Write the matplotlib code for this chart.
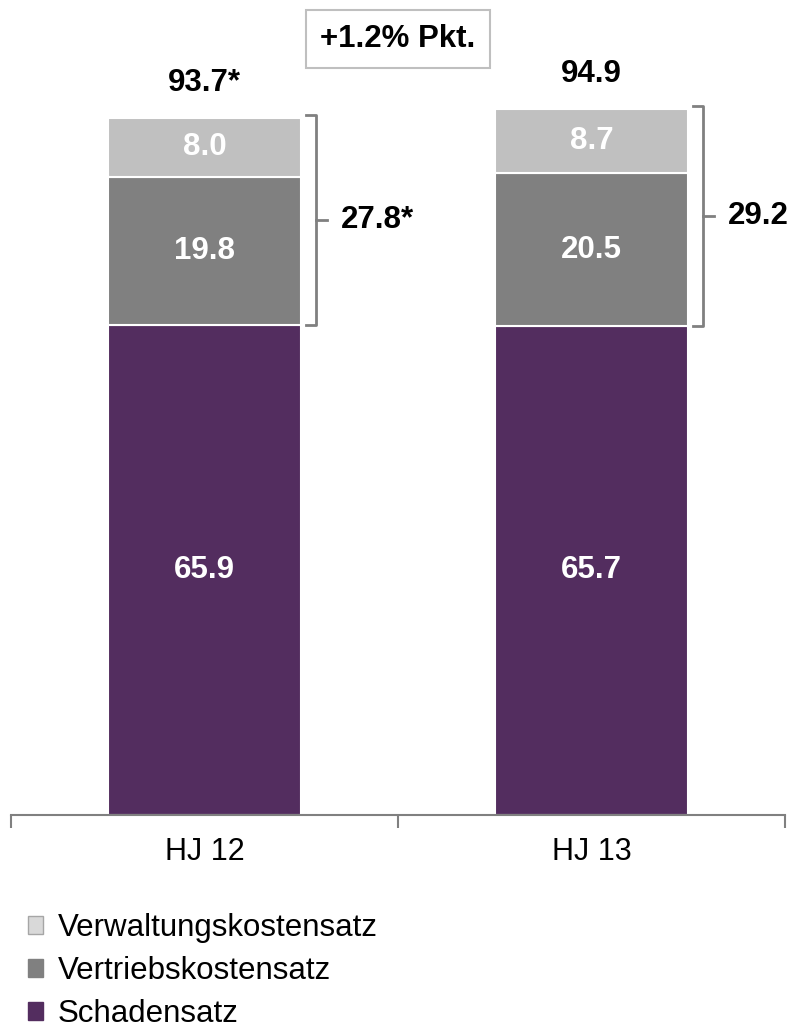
import matplotlib.pyplot as plt
from matplotlib.patches import Patch

plt.rcParams['font.family'] = ['Liberation Sans', 'DejaVu Sans']

periods = ['HJ 12', 'HJ 13']
schaden = [65.9, 65.7]
vertrieb = [19.8, 20.5]
verwaltung = [8.0, 8.7]
totals = ['93.7*', '94.9']
kosten = ['27.8*', '29.2']
delta_label = '+1.2% Pkt.'
series_names = ['Schadensatz', 'Vertriebskostensatz', 'Verwaltungskostensatz']

c_schaden = '#532D5F'
c_vertrieb = '#808080'
c_verwaltung = '#C0C0C0'
fs = 22.5

fig = plt.figure(figsize=(7.98, 10.33), dpi=100)
ax = fig.add_axes([11 / 798, 218 / 1033, 774 / 798, 815 / 1033])

x = [0.5, 1.5]
w = 0.5
ax.bar(x, schaden, w, color=c_schaden, edgecolor='white', linewidth=1.5)
ax.bar(x, vertrieb, w, bottom=schaden, color=c_vertrieb, edgecolor='white', linewidth=1.5)
bottom3 = [a + b for a, b in zip(schaden, vertrieb)]
ax.bar(x, verwaltung, w, bottom=bottom3, color=c_verwaltung, edgecolor='white', linewidth=1.5)

for i in range(2):
    ax.text(x[i], schaden[i] / 2, f'{schaden[i]:.1f}', ha='center', va='center',
            color='white', fontsize=fs, fontweight='bold')
    ax.text(x[i], schaden[i] + vertrieb[i] / 2, f'{vertrieb[i]:.1f}', ha='center', va='center',
            color='white', fontsize=fs, fontweight='bold')
    ax.text(x[i], bottom3[i] + verwaltung[i] / 2, f'{verwaltung[i]:.1f}', ha='center', va='center',
            color='white', fontsize=fs, fontweight='bold')
    top = bottom3[i] + verwaltung[i]
    ax.text(x[i], top + 4.7, totals[i], ha='center', va='center',
            color='black', fontsize=fs, fontweight='bold')
    # bracket around the cost ratios
    bx0 = x[i] + w / 2 + 0.012
    bx1 = bx0 + 0.025
    lo = schaden[i]
    hi = top + 0.4
    mid = (lo + hi) / 2
    ax.plot([bx0, bx1, bx1, bx0], [hi, hi, lo, lo], color='#808080', lw=2,
            solid_joinstyle='round', clip_on=False)
    ax.plot([bx1, bx1 + 0.03], [mid, mid], color='#808080', lw=2, clip_on=False)
    ax.text(bx1 + 0.065, mid, kosten[i], ha='left', va='center',
            color='black', fontsize=fs, fontweight='bold')

ax.text(1.0, 104.3, delta_label, ha='center', va='center', fontsize=fs, fontweight='bold',
        bbox=dict(boxstyle='square,pad=0.45', facecolor='white', edgecolor='#BFBFBF', lw=1.5))

ax.set_xlim(0, 2)
ax.set_ylim(0, 109.5)
for s in ['top', 'right', 'left']:
    ax.spines[s].set_visible(False)
ax.spines['bottom'].set_color('#808080')
ax.spines['bottom'].set_linewidth(1.5)
ax.set_yticks([])
ax.set_xticks([0, 1, 2])
ax.set_xticklabels([])
ax.tick_params(axis='x', which='major', length=9, width=1.5, color='#808080')
ax.set_xticks(x, minor=True)
ax.set_xticklabels(periods, minor=True, fontsize=22)
ax.tick_params(axis='x', which='minor', length=0, pad=16)

handles = [Patch(facecolor='#D9D9D9', edgecolor='#A6A6A6', lw=1),
           Patch(facecolor=c_vertrieb, edgecolor=c_vertrieb),
           Patch(facecolor=c_schaden, edgecolor=c_schaden)]
fig.legend(handles, series_names[::-1], loc='upper left',
           bbox_to_anchor=(28 / 798, 1 - 913 / 1033), frameon=False, fontsize=fs,
           handlelength=0.48, handleheight=0.48, handletextpad=0.48, labelspacing=0.42,
           borderpad=0, borderaxespad=0)

fig.savefig('out.png', dpi=100)
